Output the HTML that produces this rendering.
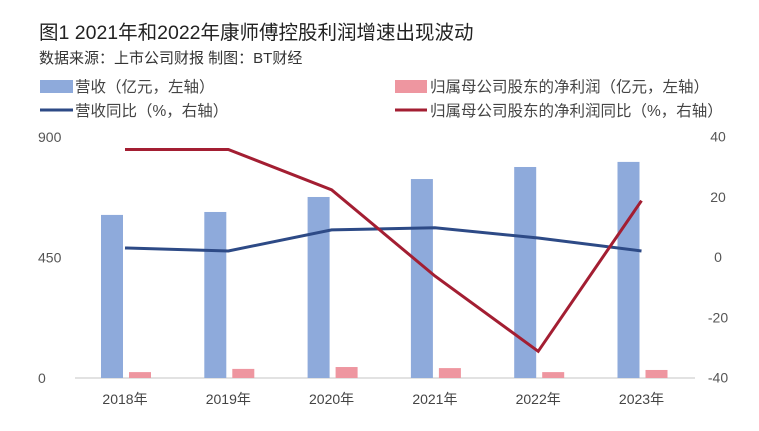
<!DOCTYPE html>
<html><head><meta charset="utf-8"><style>
body{margin:0;background:#fff;width:759px;height:426px;overflow:hidden;font-family:"Liberation Sans","Noto Sans CJK SC",sans-serif;}
</style></head><body>
<svg width="759" height="426" xmlns="http://www.w3.org/2000/svg" font-family="Liberation Sans, Noto Sans CJK SC, sans-serif">
<text x="39" y="39" font-size="19.5" fill="#222">图1 2021年和2022年康师傅控股利润增速出现波动</text>
<text x="39" y="63" font-size="15" fill="#333">数据来源：上市公司财报      制图：BT财经</text>
<g font-size="15.5" fill="#444">
<rect x="40" y="80" width="33" height="13" fill="#8eaadb"/><text x="75" y="92">营收（亿元，左轴）</text>
<rect x="395" y="80" width="32" height="13" fill="#ee96a0"/><text x="430" y="92">归属母公司股东的净利润（亿元，左轴）</text>
<line x1="40" y1="110" x2="73" y2="110" stroke="#2d4a86" stroke-width="3"/><text x="75" y="116">营收同比（%，右轴）</text>
<line x1="395" y1="110" x2="427" y2="110" stroke="#a31e32" stroke-width="3"/><text x="430" y="116">归属母公司股东的净利润同比（%，右轴）</text>
</g>
<g id="chart"></g>
</svg>
<script>
const categories=["2018年","2019年","2020年","2021年","2022年","2023年"];
const revenue=[609,620,676,743,788,807];
const profit=[22,34,41,37,22,30];
const revenueYoY=[3,2,9,9.7,6.3,2];
const profitYoY=[35.7,35.7,22.3,-6.3,-31.3,18.7];
const leftTicks=[0,450,900];
const rightTicks=[40,20,0,-20,-40];
const ns="http://www.w3.org/2000/svg";
const g=document.getElementById('chart');
const x=i=>125+103.3*i;
const yL=v=>378-v*(241/900);
const yR=v=>257-v*(120.5/40);
function el(t,a){const e=document.createElementNS(ns,t);for(const k in a)e.setAttribute(k,a[k]);g.appendChild(e);return e;}
let ax=el('line',{x1:75,y1:378,x2:695,y2:378,stroke:'#d9d9d9','stroke-width':1.5});


leftTicks.forEach(v=>{const t=el('text',{x:38,y:yL(v)+5,'font-size':14,fill:'#555'});t.textContent=v;

});
rightTicks.forEach(v=>{const t=el('text',{x:718,y:yR(v)+5,'font-size':14,fill:'#555','text-anchor':'middle'});t.textContent=v;

});
categories.forEach((c,i)=>{
const b=el('rect',{x:x(i)-24,y:yL(revenue[i]),width:22,height:378-yL(revenue[i]),fill:'#8eaadb'});


const p=el('rect',{x:x(i)+4,y:yL(profit[i]),width:22,height:378-yL(profit[i]),fill:'#ee96a0'});


const t=el('text',{x:x(i),y:404,'font-size':14,fill:'#444','text-anchor':'middle'});t.textContent=c;


});
const l1=el('polyline',{points:revenueYoY.map((v,i)=>x(i)+','+yR(v)).join(' '),fill:'none',stroke:'#2d4a86','stroke-width':3});


const l2=el('polyline',{points:profitYoY.map((v,i)=>x(i)+','+yR(v)).join(' '),fill:'none',stroke:'#a31e32','stroke-width':3});


</script>
</body></html>
